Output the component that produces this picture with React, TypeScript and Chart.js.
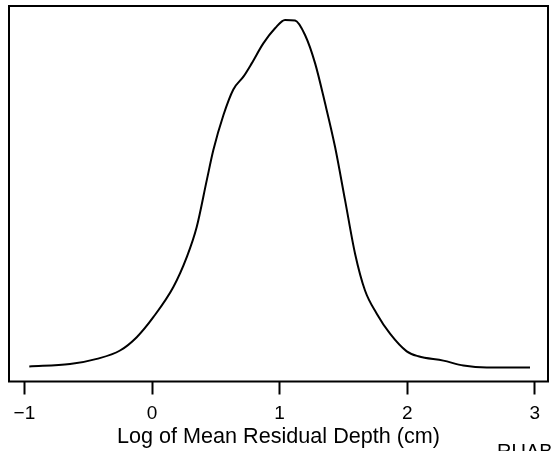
import React, { useEffect, useRef } from "react";
import { Chart, registerables } from "chart.js";

Chart.register(...registerables);

// Kernel density estimate of log mean residual depth
const logDepth = [
  -0.962, -0.643, -0.433, -0.251, -0.12, 0.01, 0.167, 0.272, 0.35, 0.429,
  0.48, 0.559, 0.637, 0.716, 0.781, 0.872, 0.964, 1.042, 1.121, 1.199, 1.278,
  1.356, 1.434, 1.513, 1.591, 1.669, 1.761, 1.865, 1.996, 2.087, 2.283, 2.44,
  2.623, 2.962,
];
const density = [
  0.004, 0.012, 0.03, 0.059, 0.105, 0.174, 0.278, 0.381, 0.485, 0.647,
  0.75, 0.871, 0.96, 1.004, 1.05, 1.119, 1.171, 1.2, 1.198, 1.148, 1.05, 0.912,
  0.762, 0.577, 0.393, 0.266, 0.186, 0.117, 0.056, 0.039, 0.024, 0.007, 0.0,
  0.0,
];
const tickValues = [-1, 0, 1, 2, 3];
const tickLabels = ["\u22121", "0", "1", "2", "3"];
const xTitle = "Log of Mean Residual Depth (cm)";
const cornerText = "RUAB";

const FONT = "'Liberation Sans', Arial, Helvetica, sans-serif";

export default function App() {
  const ref = useRef<HTMLCanvasElement | null>(null);

  useEffect(() => {
    const canvas = ref.current;
    if (!canvas) return;
    const peak = Math.max(...density);

    const framePlugin = {
      id: "frame",
      afterDraw(chart: any) {
        const { ctx, chartArea } = chart;
        ctx.save();
        ctx.strokeStyle = "#000";
        ctx.lineWidth = 2;
        ctx.strokeRect(
          chartArea.left,
          chartArea.top,
          chartArea.right - chartArea.left,
          chartArea.bottom - chartArea.top
        );
        ctx.fillStyle = "#000";
        ctx.font = `20px ${FONT}`;
        ctx.textBaseline = "alphabetic";
        ctx.textAlign = "left";
        ctx.fillText(cornerText, 497, 457.6);
        ctx.restore();
      },
    };

    const chart = new Chart(canvas, {
      type: "line",
      data: {
        datasets: [
          {
            data: logDepth.map((x, i) => ({ x, y: density[i] })),
            borderColor: "#000",
            borderWidth: 2,
            pointRadius: 0,
            fill: false,
            cubicInterpolationMode: "monotone",
          },
        ],
      },
      options: {
        animation: false,
        responsive: false,
        maintainAspectRatio: false,
        layout: { padding: { left: 9, right: 7, top: 6, bottom: 0 } },
        plugins: {
          legend: { display: false },
          tooltip: { enabled: false },
        },
        scales: {
          x: {
            type: "linear",
            min: -1.121,
            max: 3.103,
            afterBuildTicks: (scale: any) => {
              scale.ticks = tickValues.map((v) => ({ value: v }));
            },
            afterFit: (scale: any) => {
              scale.height = 69.5;
            },
            border: { display: false },
            grid: {
              drawOnChartArea: false,
              drawTicks: true,
              tickLength: 13,
              tickColor: "#000",
              tickWidth: 2,
            },
            ticks: {
              color: "#000",
              padding: 8,
              maxRotation: 0,
              autoSkip: false,
              font: { family: FONT, size: 19 },
              callback: (v: any) => {
                const i = tickValues.indexOf(Number(v));
                return i >= 0 ? tickLabels[i] : "";
              },
            },
            title: {
              display: true,
              text: xTitle,
              color: "#000",
              font: { family: FONT, size: 21.6 },
              padding: { top: 0, bottom: 1.4 },
            },
          },
          y: {
            display: false,
            min: -0.04 * peak,
            max: 1.04 * peak,
          },
        },
      },
      plugins: [framePlugin],
    } as any);

    return () => chart.destroy();
  }, []);

  return (
    <div style={{ position: "absolute", left: 0, top: 0, width: 555, height: 451, background: "#fff" }}>
      <canvas ref={ref} width={555} height={451} style={{ display: "block" }} />
    </div>
  );
}
